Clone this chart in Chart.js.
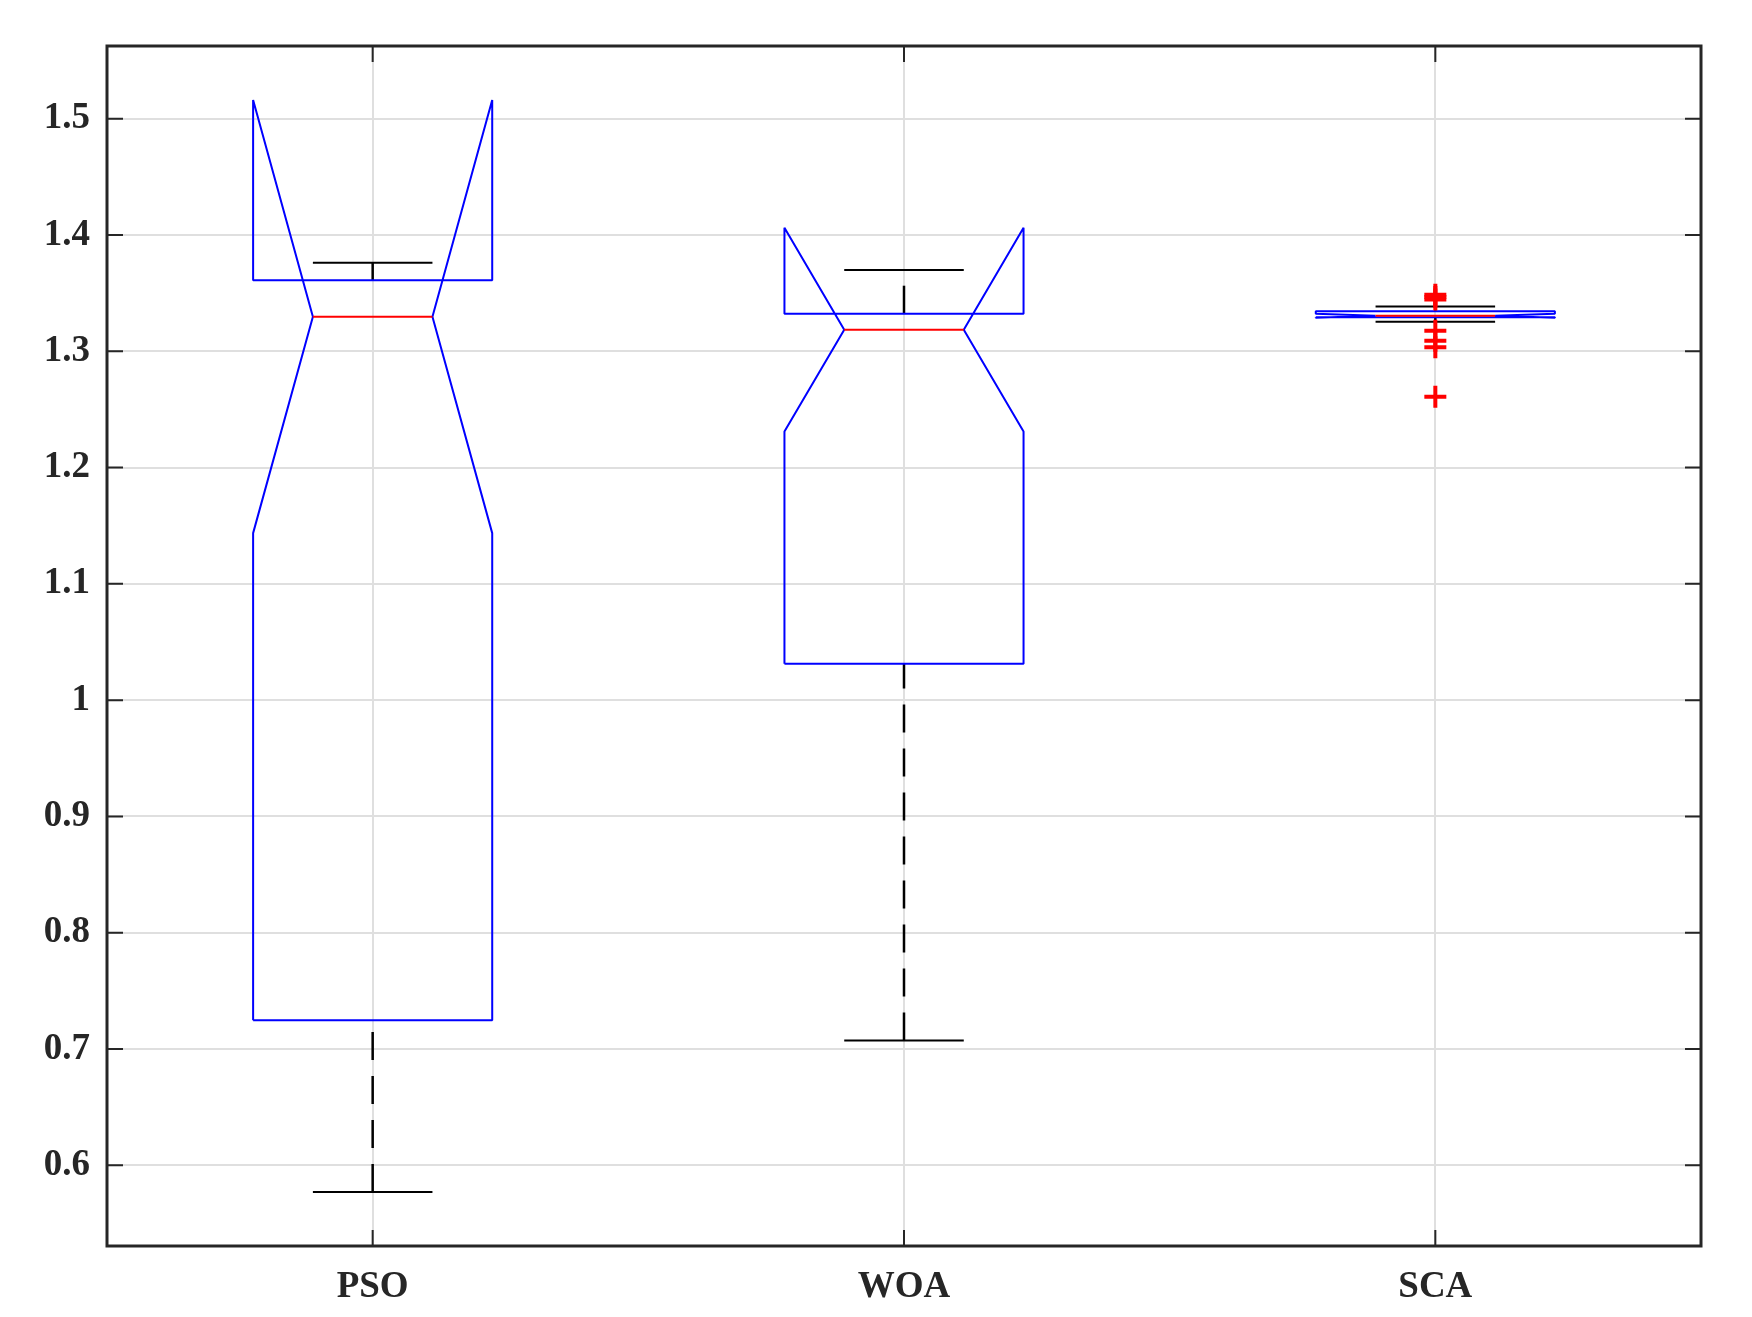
<!DOCTYPE html>
<html><head><meta charset="utf-8">
<script src="https://cdn.jsdelivr.net/npm/chart.js@4.4.0/dist/chart.umd.min.js"></script>
<style>html,body{margin:0;padding:0;background:#fff;}canvas{display:block;}</style>
</head><body>
<canvas id="c" width="1752" height="1317"></canvas>
<script>
// ---- data (notched box plot) ----
const categories  = ['PSO', 'WOA', 'SCA'];
const whiskerLow  = [0.5771, 0.7074, 1.3254];
const q1          = [0.7248, 1.0312, 1.3292];
const notchLow    = [1.1436, 1.2311, 1.3288];
const median      = [1.3297, 1.3185, 1.3305];
const notchHigh   = [1.5161, 1.4062, 1.3322];
const q3          = [1.3610, 1.3323, 1.3343];
const whiskerHigh = [1.3761, 1.3699, 1.3385];
const outliers    = [[], [], [1.3487, 1.3466, 1.3445, 1.3176, 1.3090, 1.3034, 1.2609]];
const yTickValues = [0.6, 0.7, 0.8, 0.9, 1, 1.1, 1.2, 1.3, 1.4, 1.5];
const yLimits     = [0.5306, 1.5625];
const xLimits     = [0.5, 3.5];

// ---- styling constants ----
const BOX_HALF = 0.225, NOTCH_HALF = 0.1125;
const BLUE = '#0000ff', RED = '#ff0000', BLACK = '#000000', AXIS = '#262626';

const base = {type: 'line', fill: false, tension: 0, pointRadius: 0, pointHoverRadius: 0,
  borderJoinStyle: 'bevel', borderCapStyle: 'butt'};
const outlierSets = [], medianSets = [], boxSets = [], capSets = [], whiskerSets = [];

categories.forEach((name, i) => {
  const c = i + 1;
  if (outliers[i].length) {
    outlierSets.push({
      type: 'line', showLine: false,
      data: outliers[i].map(v => ({x: c, y: v})),
      pointStyle: 'cross', pointRadius: 11, pointHoverRadius: 11,
      pointBorderWidth: 4, pointBorderColor: RED, pointBackgroundColor: RED
    });
  }
  medianSets.push({...base, borderColor: RED, borderWidth: 2,
    data: [{x: c - NOTCH_HALF, y: median[i]}, {x: c + NOTCH_HALF, y: median[i]}]});
  boxSets.push({...base, borderColor: BLUE, borderWidth: 2,
    data: [
      {x: c - BOX_HALF, y: q1[i]},
      {x: c - BOX_HALF, y: notchLow[i]},
      {x: c - NOTCH_HALF, y: median[i]},
      {x: c - BOX_HALF, y: notchHigh[i]},
      {x: c - BOX_HALF, y: q3[i]},
      {x: c + BOX_HALF, y: q3[i]},
      {x: c + BOX_HALF, y: notchHigh[i]},
      {x: c + NOTCH_HALF, y: median[i]},
      {x: c + BOX_HALF, y: notchLow[i]},
      {x: c + BOX_HALF, y: q1[i]},
      {x: c - BOX_HALF, y: q1[i]}
    ]});
  capSets.push({...base, borderColor: BLACK, borderWidth: 2,
    data: [{x: c - NOTCH_HALF, y: whiskerLow[i]}, {x: c + NOTCH_HALF, y: whiskerLow[i]}]});
  capSets.push({...base, borderColor: BLACK, borderWidth: 2,
    data: [{x: c - NOTCH_HALF, y: whiskerHigh[i]}, {x: c + NOTCH_HALF, y: whiskerHigh[i]}]});
  whiskerSets.push({...base, borderColor: BLACK, borderWidth: 2.5, borderDash: [28, 16],
    data: [{x: c, y: whiskerLow[i]}, {x: c, y: q1[i]}]});
  whiskerSets.push({...base, borderColor: BLACK, borderWidth: 2.5, borderDash: [28, 16],
    data: [{x: c, y: q3[i]}, {x: c, y: whiskerHigh[i]}]});
});

// first dataset is drawn on top
const datasets = [...outlierSets, ...medianSets, ...boxSets, ...capSets, ...whiskerSets];

const frame = {
  id: 'frame',
  afterDraw(chart) {
    const {ctx, chartArea: a, scales: {x, y}} = chart;
    const TL = 16;
    ctx.save();
    ctx.strokeStyle = AXIS;
    ctx.lineWidth = 2;
    ctx.beginPath();
    y.ticks.forEach(t => {
      const p = y.getPixelForValue(t.value);
      ctx.moveTo(a.left, p); ctx.lineTo(a.left + TL, p);
      ctx.moveTo(a.right, p); ctx.lineTo(a.right - TL, p);
    });
    x.ticks.forEach(t => {
      const p = x.getPixelForValue(t.value);
      ctx.moveTo(p, a.bottom); ctx.lineTo(p, a.bottom - TL);
      ctx.moveTo(p, a.top); ctx.lineTo(p, a.top + TL);
    });
    ctx.stroke();
    ctx.lineWidth = 3;
    ctx.strokeRect(a.left, a.top, a.right - a.left, a.bottom - a.top);
    ctx.restore();
  }
};

const tickFont = {family: "'Liberation Serif', serif", size: 37, weight: 'bold'};

new Chart(document.getElementById('c'), {
  type: 'line',
  data: {datasets},
  options: {
    responsive: false,
    animation: false,
    events: [],
    layout: {padding: {top: 46, right: 51, left: 0, bottom: 0}},
    plugins: {legend: {display: false}, tooltip: {enabled: false}},
    scales: {
      x: {
        type: 'linear', min: xLimits[0], max: xLimits[1],
        afterBuildTicks: s => { s.ticks = categories.map((_, i) => ({value: i + 1})); },
        afterFit: s => { s.height = 71; },
        grid: {color: '#dfdfdf', lineWidth: 2, drawTicks: false},
        border: {display: false},
        ticks: {autoSkip: false, maxRotation: 0, padding: 19, color: AXIS, font: tickFont,
          callback: v => categories[Math.round(v) - 1]}
      },
      y: {
        type: 'linear', min: yLimits[0], max: yLimits[1],
        afterBuildTicks: s => { s.ticks = yTickValues.map(v => ({value: v})); },
        afterFit: s => { s.width = 107; },
        grid: {color: '#dfdfdf', lineWidth: 2, drawTicks: false},
        border: {display: false},
        ticks: {autoSkip: false, padding: 17, color: AXIS, font: tickFont,
          callback: v => String(v)}
      }
    }
  },
  plugins: [frame]
});
</script>
</body></html>
